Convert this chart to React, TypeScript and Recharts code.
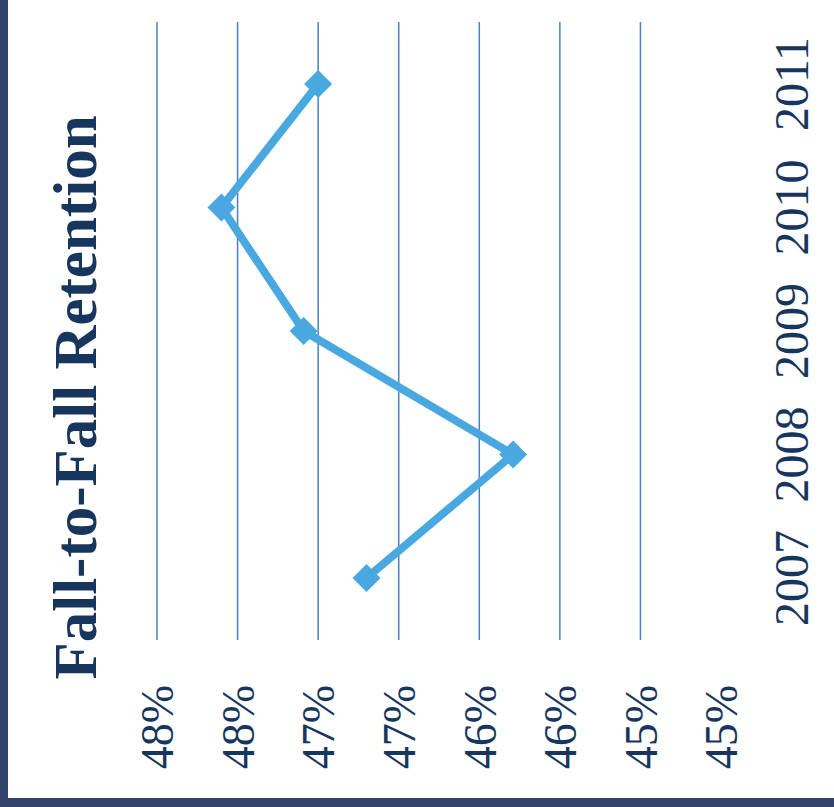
import React from "react";
import { LineChart, Line, XAxis, YAxis, CartesianGrid } from "recharts";

/* ---------------- DATA ---------------- */
const years = ["2007", "2008", "2009", "2010", "2011"];
const retention = [46.7, 45.79, 47.09, 47.6, 47.0];
const yTicks = [48, 47.5, 47, 46.5, 46, 45.5, 45, 44.5];
const gridValues = [48, 47.5, 47, 46.5, 46, 45.5, 45];

const data = years.map((year, i) => ({ year, value: retention[i] }));

/* ---------------- STYLE ---------------- */
const navy = "#17365d";
const lineBlue = "#4aa8e0";
const gridBlue = "#4b81c2";
const serif = "Liberation Serif";

// chart is drawn upright, then the whole thing is turned on its side
const W = 807;
const H = 834;

const Diamond = (props: any) => {
  const { cx, cy } = props;
  if (cx == null || cy == null) return null;
  const r = 14;
  return (
    <polygon
      points={`${cx},${cy - r} ${cx + r},${cy} ${cx},${cy + r} ${cx - r},${cy}`}
      fill={lineBlue}
    />
  );
};

const App: React.FC = () => {
  return (
    <div
      style={{
        position: "fixed",
        left: 0,
        top: 0,
        width: 834,
        height: 807,
        overflow: "hidden",
        background: "#ffffff",
      }}
    >
      <div
        style={{
          position: "absolute",
          left: 0,
          top: 0,
          width: W,
          height: H,
          transformOrigin: "0 0",
          transform: `translateY(${W}px) rotate(-90deg)`,
        }}
      >
        {/* TITLE */}
        <div
          style={{
            position: "absolute",
            left: 12,
            right: 0,
            top: 45,
            textAlign: "center",
            fontFamily: serif,
            fontWeight: "bold",
            fontSize: 61,
            lineHeight: "61px",
            color: navy,
            whiteSpace: "nowrap",
          }}
        >
          Fall-to-Fall Retention
        </div>

        <LineChart
          width={W}
          height={H}
          data={data}
          margin={{ top: 157, right: 22, left: 0, bottom: 13 }}
          style={{ fontFamily: serif }}
        >
          <CartesianGrid
            vertical={false}
            horizontalValues={gridValues}
            stroke={gridBlue}
            strokeWidth={1.5}
          />
          <XAxis
            dataKey="year"
            scale="point"
            padding={{ left: 62, right: 62 }}
            height={100}
            axisLine={false}
            tickLine={false}
            tickSize={0}
            tickMargin={53}
            tick={{ fill: navy, fontSize: 48, fontFamily: serif }}
            interval={0}
          />
          <YAxis
            type="number"
            domain={[44.5, 48]}
            ticks={yTicks}
            width={167}
            axisLine={false}
            tickLine={false}
            tickSize={0}
            tickMargin={45}
            interval={0}
            tick={{ fill: navy, fontSize: 46, fontFamily: serif }}
            tickFormatter={(v: number) => `${Math.round(v)}%`}
          />
          <Line
            type="linear"
            dataKey="value"
            stroke={lineBlue}
            strokeWidth={8}
            dot={<Diamond />}
            activeDot={false}
            isAnimationActive={false}
          />
        </LineChart>
      </div>

      {/* FRAME */}
      <div
        style={{
          position: "absolute",
          left: 0,
          top: 0,
          width: 8,
          height: 807,
          background: "#2f4268",
        }}
      />
      <div
        style={{
          position: "absolute",
          left: 0,
          top: 798,
          width: 834,
          height: 9,
          background: "#2f4268",
        }}
      />
    </div>
  );
};

export default App;
